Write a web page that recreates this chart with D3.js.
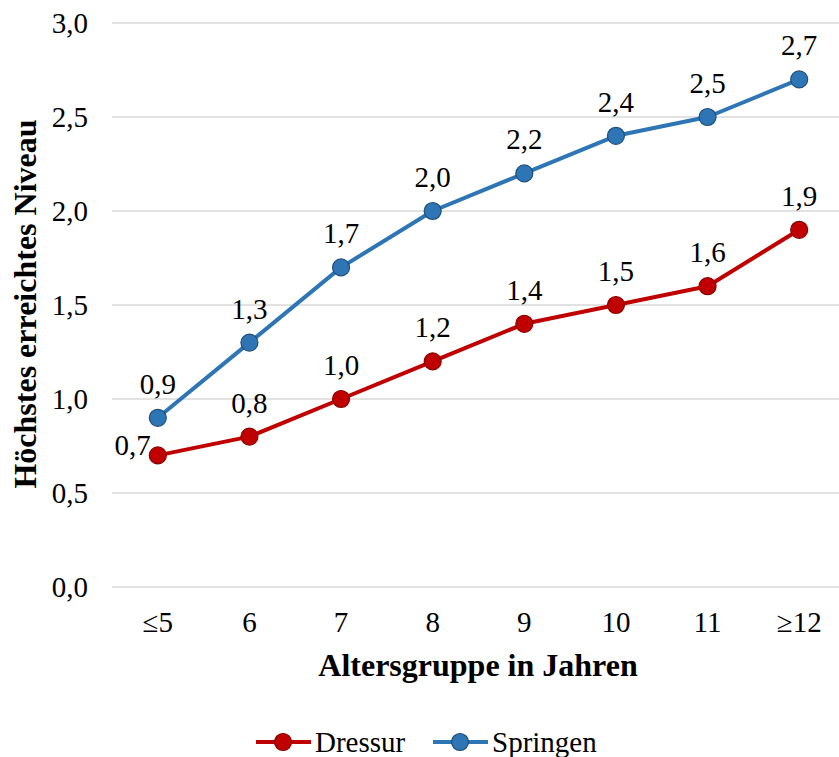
<!DOCTYPE html>
<html>
<head>
<meta charset="utf-8">
<script src="https://cdn.jsdelivr.net/npm/d3@7/dist/d3.min.js"></script>
<style>
  html, body { margin: 0; padding: 0; background: #fff; }
</style>
</head>
<body>
<svg id="chart" width="839" height="757"></svg>
<script>
const categories = ["≤5", "6", "7", "8", "9", "10", "11", "≥12"];
const dressur = [0.7, 0.8, 1.0, 1.2, 1.4, 1.5, 1.6, 1.9];
const springen = [0.9, 1.3, 1.7, 2.0, 2.2, 2.4, 2.5, 2.7];
const yTicks = [0, 0.5, 1.0, 1.5, 2.0, 2.5, 3.0];

const series = [
  { name: "Dressur", values: dressur, line: "#C00000", fill: "#C00000", stroke: "#8A0000" },
  { name: "Springen", values: springen, line: "#2E75B6", fill: "#2E75B6", stroke: "#1F4E79" }
];

const FONT = "'Liberation Serif', 'Times New Roman', Times, serif";
const TEXT_SIZE = 29;
const TITLE_SIZE = 32;
const svg = d3.select("#chart");
const fmt = v => d3.format(".1f")(v).replace(".", ",");

const x = d3.scaleBand().domain(categories).range([112, 845]);
const y = d3.scaleLinear().domain([0, 3]).range([587, 23]);
const cx = c => x(c) + x.bandwidth() / 2;

// horizontal gridlines
svg.append("g").selectAll("line").data(yTicks).join("line")
  .attr("x1", 112).attr("x2", 839)
  .attr("y1", d => y(d)).attr("y2", d => y(d))
  .attr("stroke", "#d9d9d9").attr("stroke-width", 1.5);

// y tick labels
svg.append("g").selectAll("text").data(yTicks).join("text")
  .attr("x", 88).attr("y", d => y(d))
  .attr("text-anchor", "end").attr("dominant-baseline", "central")
  .attr("font-family", FONT).attr("font-size", TEXT_SIZE)
  .text(fmt);

// x tick labels
svg.append("g").selectAll("text").data(categories).join("text")
  .attr("x", d => cx(d)).attr("y", 622)
  .attr("text-anchor", "middle").attr("dominant-baseline", "central")
  .attr("font-family", FONT).attr("font-size", TEXT_SIZE)
  .text(d => d);

// axis titles
svg.append("text")
  .attr("x", 478).attr("y", 665)
  .attr("text-anchor", "middle").attr("dominant-baseline", "central")
  .attr("font-family", FONT).attr("font-size", TITLE_SIZE).attr("font-weight", "bold")
  .text("Altersgruppe in Jahren");

svg.append("text")
  .attr("transform", "translate(25,304) rotate(-90)")
  .attr("text-anchor", "middle").attr("dominant-baseline", "central")
  .attr("font-family", FONT).attr("font-size", TITLE_SIZE).attr("font-weight", "bold")
  .text("Höchstes erreichtes Niveau");

const line = d3.line().x((d, i) => cx(categories[i])).y(d => y(d));

series.forEach((s, si) => {
  const g = svg.append("g");
  g.append("path")
    .attr("d", line(s.values))
    .attr("fill", "none").attr("stroke", s.line)
    .attr("stroke-width", 4).attr("stroke-linejoin", "round");
  g.selectAll("circle").data(s.values).join("circle")
    .attr("cx", (d, i) => cx(categories[i])).attr("cy", d => y(d))
    .attr("r", 8.5).attr("fill", s.fill)
    .attr("stroke", s.stroke).attr("stroke-width", 1.2);
  // value labels: above each point, except the first Dressur point (left of it)
  const leftLabel = i => si === 0 && i === 0;
  g.selectAll("text").data(s.values).join("text")
    .attr("x", (d, i) => leftLabel(i) ? cx(categories[i]) - 7 : cx(categories[i]))
    .attr("y", (d, i) => leftLabel(i) ? y(d) - 10 : y(d) - 34)
    .attr("text-anchor", (d, i) => leftLabel(i) ? "end" : "middle")
    .attr("dominant-baseline", "central")
    .attr("font-family", FONT).attr("font-size", TEXT_SIZE)
    .text(fmt);
});

// legend
const legend = svg.append("g");
const legendItems = [
  { s: series[0], x0: 256 },
  { s: series[1], x0: 433 }
];
legendItems.forEach(({ s, x0 }) => {
  const ly = 742;
  legend.append("line")
    .attr("x1", x0).attr("x2", x0 + 55).attr("y1", ly).attr("y2", ly)
    .attr("stroke", s.line).attr("stroke-width", 4);
  legend.append("circle")
    .attr("cx", x0 + 27).attr("cy", ly).attr("r", 8.5)
    .attr("fill", s.fill).attr("stroke", s.stroke).attr("stroke-width", 1.2);
  legend.append("text")
    .attr("x", x0 + 59).attr("y", ly)
    .attr("dominant-baseline", "central")
    .attr("font-family", FONT).attr("font-size", TEXT_SIZE)
    .text(s.name);
});
</script>
</body>
</html>
